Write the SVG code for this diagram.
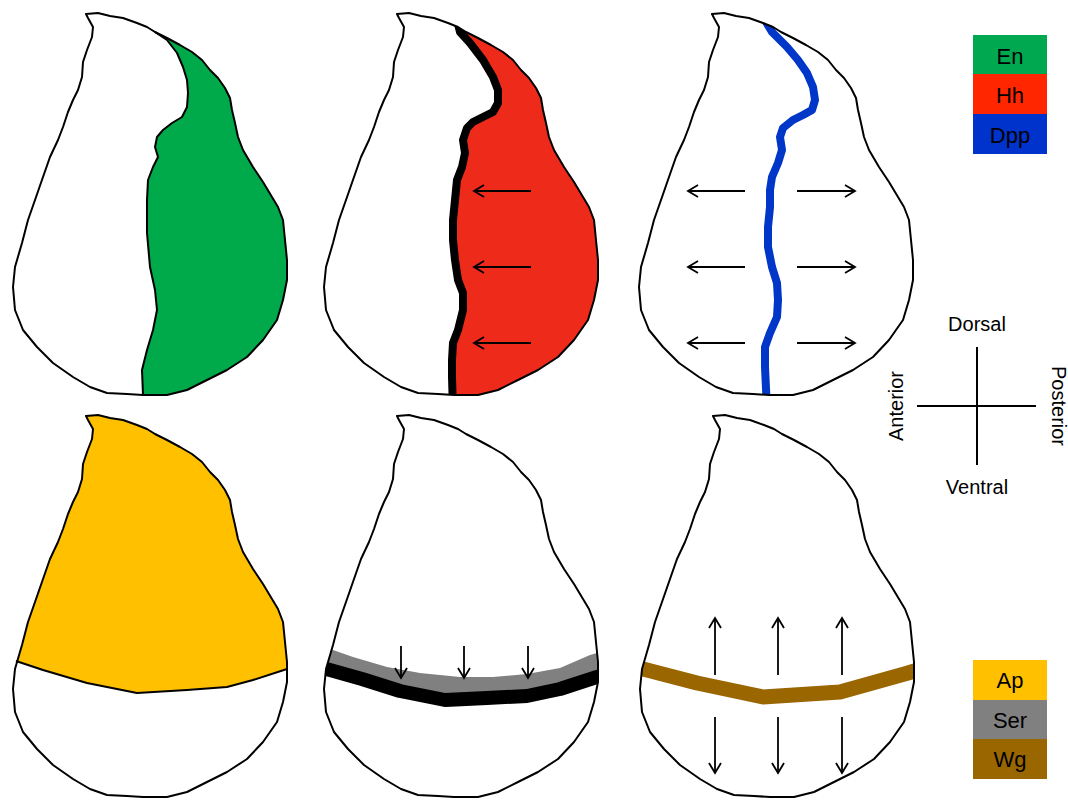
<svg xmlns="http://www.w3.org/2000/svg" xmlns:xlink="http://www.w3.org/1999/xlink" width="1068" height="801" viewBox="0 0 1068 801">
  <style>
    .body { fill: #ffffff; stroke: none; }
    .edge { fill: none; stroke: #000; stroke-width: 2; stroke-linejoin: round; }
    .thin { fill: none; stroke: #000; stroke-width: 2; stroke-linejoin: round; }
    .arrow { fill: none; stroke: #000; stroke-width: 1.8; marker-end: url(#head); }
    .axis { stroke: #000; stroke-width: 2; }
    .lbl { font-family: "Liberation Sans", Arial, sans-serif; font-size: 22px; fill: #000; text-anchor: middle; }
    .dir { font-family: "Liberation Sans", Arial, sans-serif; font-size: 20px; fill: #000; text-anchor: middle; }
  </style>
  <defs>
    <!-- wing disc outline, local coordinates -->
    <path id="outline" d="M86,14 L98,13 L110,16 L123,18 L137,23 L147,27 L155,32 L167,38 L180,45 L192,52 L202,60 L210,70 L218,78 L225,88 L230,98 L232,110 L235,123 L238,137 L243,150 L253,167 L263,182 L272,197 L278,207 L283,220 L285,240 L287,260 L287,280 L283,300 L277,320 L263,340 L247,357 L227,370 L207,380 L187,390 L167,395 L143,395 L127,394 L107,393 L90,387 L73,377 L53,363 L37,347 L23,330 L15,310 L13,287 L15,267 L22,243 L28,220 L35,200 L43,177 L50,157 L58,140 L63,127 L68,112 L73,100 L78,90 L82,77 L83,62 L87,50 L92,37 L93,27 L88,18 Z"/>
    <clipPath id="clip"><use xlink:href="#outline"/></clipPath>
    <marker id="head" markerUnits="userSpaceOnUse" markerWidth="16" markerHeight="16" viewBox="-12 -8 14 16" refX="0" refY="0" orient="auto">
      <path d="M-10,-6 L0,0 L-10,6" fill="none" stroke="#000" stroke-width="1.8"/>
    </marker>
  </defs>

  <!-- Engrailed: posterior compartment -->
  <g id="disc-en" transform="translate(0,0)">
    <use xlink:href="#outline" class="body"/>
    <g clip-path="url(#clip)">
      <path fill="#00a94a" d="M155,0 L155,32 L167,40 L177,53 L183,67 L187,80 L188,93 L187,107 L182,117 L172,123 L163,130 L157,137 L155,147 L158,157 L153,167 L148,180 L147,200 L147,233 L150,267 L155,290 L157,310 L153,330 L147,350 L142,370 L143,410 L300,410 L300,0 Z"/>
    </g>
    <path class="thin" d="M155,32 L167,40 L177,53 L183,67 L187,80 L188,93 L187,107 L182,117 L172,123 L163,130 L157,137 L155,147 L158,157 L153,167 L148,180 L147,200 L147,233 L150,267 L155,290 L157,310 L153,330 L147,350 L142,370 L143,395"/>
    <use xlink:href="#outline" class="edge"/>
  </g>

  <!-- Hedgehog: posterior compartment with A/P boundary -->
  <g id="disc-hh" transform="translate(311,0)">
    <use xlink:href="#outline" class="body"/>
    <g clip-path="url(#clip)">
      <path fill="#ee2a1b" d="M149,0 L149,32 L159,43 L172,60 L182,77 L187,90 L187,103 L182,112 L172,117 L162,122 L156,128 L152,140 L154,153 L151,167 L146,180 L144,200 L142,220 L142,240 L144,260 L147,280 L152,293 L152,310 L147,330 L142,343 L141,360 L141,377 L142,410 L300,410 L300,0 Z"/>
      <path fill="none" stroke="#000" stroke-width="8" stroke-linejoin="round" d="M146,20 L149,32 L159,43 L172,60 L182,77 L187,90 L187,103 L182,112 L172,117 L162,122 L156,128 L152,140 L154,153 L151,167 L146,180 L144,200 L142,220 L142,240 L144,260 L147,280 L152,293 L152,310 L147,330 L142,343 L141,360 L141,377 L142,410"/>
    </g>
    <use xlink:href="#outline" class="edge"/>
  </g>

  <!-- Dpp: stripe along the A/P boundary -->
  <g id="disc-dpp" transform="translate(626,0)">
    <use xlink:href="#outline" class="body"/>
    <g clip-path="url(#clip)">
      <path fill="none" stroke="#0037c8" stroke-width="8" stroke-linejoin="round" d="M140,22 L146,32 L161,47 L172,60 L181,73 L187,87 L189,100 L186,110 L177,115 L167,120 L157,128 L154,137 L156,150 L152,163 L146,177 L144,190 L144,207 L142,227 L142,247 L146,267 L151,283 L152,300 L151,317 L144,333 L139,347 L139,367 L141,410"/>
    </g>
    <use xlink:href="#outline" class="edge"/>
  </g>

  <!-- Apterous: dorsal compartment -->
  <g id="disc-ap" transform="translate(0,402)">
    <use xlink:href="#outline" class="body"/>
    <g clip-path="url(#clip)">
      <path fill="#ffc000" d="M0,0 L300,0 L300,265 L285,267 L253,278 L227,285 L187,288 L137,291 L87,281 L43,268 L17,260 L0,255 Z"/>
    </g>
    <path class="thin" d="M16,259 L43,268 L87,281 L137,291 L187,288 L227,285 L253,278 L287,267"/>
    <use xlink:href="#outline" class="edge"/>
  </g>

  <!-- Serrate: band dorsal to the D/V boundary -->
  <g id="disc-ser" transform="translate(311,402)">
    <use xlink:href="#outline" class="body"/>
    <g clip-path="url(#clip)">
      <path fill="#808080" d="M0,243 L22,248 L42,255 L76,265 L109,271 L149,275 L182,275 L216,272 L249,266 L279,253 L300,247 L300,270 L286,275 L249,286 L216,293 L176,295 L134,297 L89,289 L51,277 L19,268 L0,263 Z"/>
      <path fill="none" stroke="#000" stroke-width="14" stroke-linejoin="round" d="M0,263 L19,268 L51,277 L89,289 L134,298 L176,296 L216,294 L249,287 L286,275 L300,270"/>
    </g>
    <use xlink:href="#outline" class="edge"/>
  </g>

  <!-- Wingless: stripe along the D/V boundary -->
  <g id="disc-wg" transform="translate(627,402)">
    <use xlink:href="#outline" class="body"/>
    <g clip-path="url(#clip)">
      <path fill="none" stroke="#996600" stroke-width="15" stroke-linejoin="round" d="M0,263 L20,268 L70,281 L136,295 L213,290 L281,271 L300,265"/>
    </g>
    <use xlink:href="#outline" class="edge"/>
  </g>

  <!-- signalling directions -->
  <g id="arrows">
    <line class="arrow" x1="531" y1="191" x2="474" y2="191"/>
    <line class="arrow" x1="531" y1="267" x2="474" y2="267"/>
    <line class="arrow" x1="531" y1="343" x2="474" y2="343"/>

    <line class="arrow" x1="745" y1="191" x2="688" y2="191"/>
    <line class="arrow" x1="745" y1="267" x2="688" y2="267"/>
    <line class="arrow" x1="745" y1="343" x2="688" y2="343"/>
    <line class="arrow" x1="797" y1="191" x2="855" y2="191"/>
    <line class="arrow" x1="797" y1="267" x2="855" y2="267"/>
    <line class="arrow" x1="797" y1="343" x2="855" y2="343"/>

    <line class="arrow" x1="401" y1="646" x2="401" y2="678"/>
    <line class="arrow" x1="464" y1="646" x2="464" y2="678"/>
    <line class="arrow" x1="528" y1="646" x2="528" y2="678"/>

    <line class="arrow" x1="715" y1="675" x2="715" y2="618"/>
    <line class="arrow" x1="778" y1="675" x2="778" y2="618"/>
    <line class="arrow" x1="842" y1="675" x2="842" y2="618"/>
    <line class="arrow" x1="715" y1="717" x2="715" y2="773"/>
    <line class="arrow" x1="778" y1="717" x2="778" y2="773"/>
    <line class="arrow" x1="842" y1="717" x2="842" y2="773"/>
  </g>

  <!-- legend, top row -->
  <g id="legend-top">
    <rect x="973" y="35" width="74" height="39" fill="#00a94f"/>
    <rect x="973" y="74" width="74" height="40" fill="#ff2600"/>
    <rect x="973" y="114" width="74" height="40" fill="#0033cc"/>
    <text class="lbl" x="1010" y="64">En</text>
    <text class="lbl" x="1010" y="103">Hh</text>
    <text class="lbl" x="1010" y="143">Dpp</text>
  </g>

  <!-- body axes -->
  <g id="compass">
    <line class="axis" x1="977" y1="347" x2="977" y2="465"/>
    <line class="axis" x1="917" y1="406" x2="1036" y2="406"/>
    <text class="dir" x="977" y="331">Dorsal</text>
    <text class="dir" x="977" y="494">Ventral</text>
    <text class="dir" transform="translate(903,406) rotate(-90)">Anterior</text>
    <text class="dir" transform="translate(1052,406) rotate(90)">Posterior</text>
  </g>

  <!-- legend, bottom row -->
  <g id="legend-bottom">
    <rect x="973" y="660" width="74" height="40" fill="#ffc000"/>
    <rect x="973" y="700" width="74" height="39" fill="#808080"/>
    <rect x="973" y="739" width="74" height="40" fill="#996600"/>
    <text class="lbl" x="1010" y="688">Ap</text>
    <text class="lbl" x="1010" y="728">Ser</text>
    <text class="lbl" x="1010" y="767">Wg</text>
  </g>
</svg>
